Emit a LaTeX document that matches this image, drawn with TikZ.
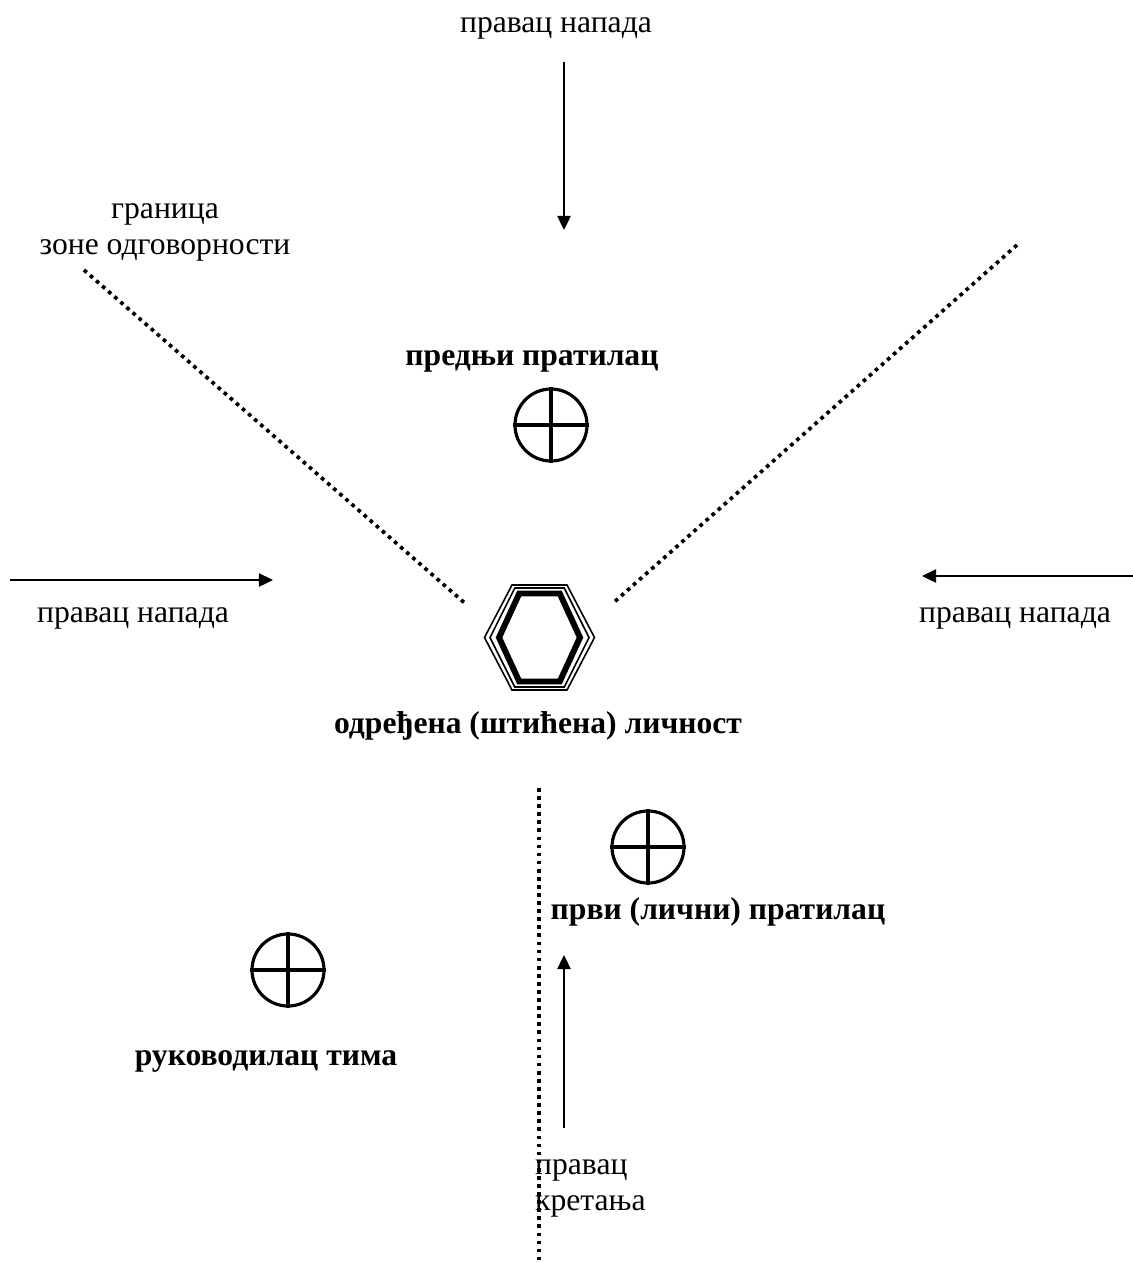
\documentclass[tikz,border=0pt]{standalone}
\usepackage{fontspec}
\setmainfont{Liberation Serif}
\usetikzlibrary{arrows.meta}

\begin{document}
\begin{tikzpicture}[x=0.02cm,y=-0.02cm,
  font=\fontsize{18}{20.5}\selectfont,
  strelica/.style={line width=1.1pt,-{Triangle[length=8pt,width=7.5pt]}},
  granica/.style={line width=2.1pt,dash pattern=on 2.1pt off 2.5pt},
  pratilac/.style={draw,circle,line width=1.8pt,minimum size=72*0.02cm,inner sep=0pt},
  naziv/.style={font=\fontsize{18}{20.5}\selectfont\bfseries}]
\useasboundingbox (0,0) rectangle (1133,1262);

% pravci napada
\node (napadGore) at (556,28) {правац напада};
\coordinate (g1) at (564,62);
\coordinate (g2) at (564,230);
\draw[strelica] (g1)--(g2);

\coordinate (l1) at (10,580);
\coordinate (l2) at (273,580);
\draw[strelica] (l1)--(l2);
\node (napadLijevo) at (133,618) {правац напада};

\coordinate (d1) at (1133,576);
\coordinate (d2) at (922,576);
\draw[strelica] (d1)--(d2);
\node (napadDesno) at (1015,618) {правац напада};

% granica zone odgovornosti
\node[align=center] (zona) at (165,232) {граница\\зоне одговорности};
\coordinate (z1) at (84,270);
\coordinate (z2) at (467,605);
\coordinate (z3) at (1017,245);
\coordinate (z4) at (612,604);
\draw[granica] (z1)--(z2);
\draw[granica] (z3)--(z4);
\coordinate (v1) at (539,788);
\coordinate (v2) at (539,1262);
\draw[granica] (v1)--(v2);

% odredjena licnost
\begin{scope}[shift={(539.5,637.5)}]
\foreach \w/\h/\lw in {55/52.5/0.9pt,49.5/49.5/0.9pt,40.5/44/3.4pt}
{
\draw[line width=\lw,line join=miter] (-\w,0)--(-\w/2,-\h)--(\w/2,-\h)--(\w,0)--(\w/2,\h)--(-\w/2,\h)--cycle;
}
\end{scope}
\coordinate (licnost) at (539.5,637.5);
\node[naziv] (licnostNaziv) at (538,726) {одређена (штићена) личност};

% pratioci
\foreach \x/\y/\ime in {551/425/prednji,648/847/prvi,288/970/rukovodilac}
{
\node[pratilac] (\ime) at (\x,\y) {};
\draw[line width=1.8pt] (\ime.north)--(\ime.south) (\ime.west)--(\ime.east);
}
\node[naziv] (prednjiNaziv) at (532,361) {предњи пратилац};
\node[naziv] (prviNaziv) at (718,912) {први (лични) пратилац};
\node[naziv] (rukovodilacNaziv) at (266,1061) {руководилац тима};

% pravac kretanja
\coordinate (k1) at (564,1128);
\coordinate (k2) at (564,955);
\draw[strelica] (k1)--(k2);
\node[align=left,anchor=west] (kretanje) at (529,1188) {правац\\кретања};

\end{tikzpicture}
\end{document}
